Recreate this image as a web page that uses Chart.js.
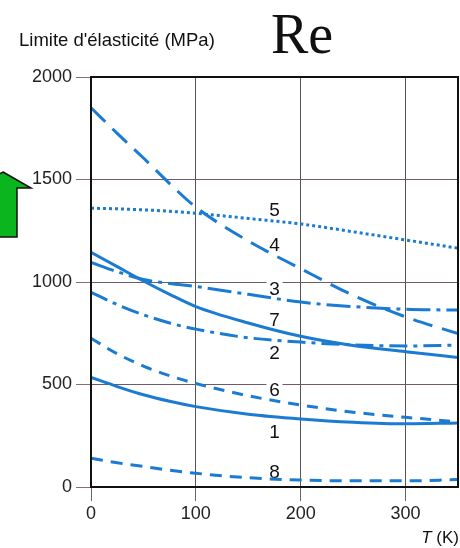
<!DOCTYPE html>
<html>
<head>
<meta charset="utf-8">
<style>
  html, body { margin: 0; padding: 0; background: #fff; }
  #wrap { position: relative; width: 460px; height: 548px; }
</style>
<script src="https://cdn.jsdelivr.net/npm/chart.js@4.4.0/dist/chart.umd.min.js"></script>
</head>
<body>
<div id="wrap"><canvas id="grafica" width="460" height="548"></canvas></div>
<script>
// temperatures (K) where the curves were read
const temperaturas = [0, 25, 50, 75, 100, 150, 200, 250, 300, 350];

// yield strength (MPa), one array per curve
const curva1 = [535, 490, 450, 418, 392, 355, 332, 316, 308, 312];
const curva2 = [950, 890, 840, 800, 770, 728, 707, 693, 688, 692];
const curva3 = [1095, 1050, 1012, 993, 978, 940, 902, 880, 867, 863];
const curva4 = [1850, 1725, 1605, 1480, 1365, 1200, 1065, 935, 830, 748];
const curva5 = [1360, 1357, 1352, 1345, 1335, 1310, 1283, 1245, 1205, 1165];
const curva6 = [725, 650, 590, 543, 505, 445, 400, 365, 340, 318];
const curva7 = [1145, 1075, 1005, 940, 880, 800, 735, 690, 660, 632];
const curva8 = [140, 118, 100, 82, 67, 45, 34, 30, 30, 36];

// curve numbers and where they are written (T = 175 K)
const etiquetas = ['5', '4', '3', '7', '2', '6', '1', '8'];
const etiquetasY = [1351, 1180, 966, 815, 654, 473, 268, 73];
const etiquetaT = 175;

const ticksX = [0, 100, 200, 300];
const ticksY = [0, 500, 1000, 1500, 2000];

const azul = '#1b7bd3';
const fuente = '"Liberation Sans", Arial, sans-serif';

function serie(valores, trazo) {
  return {
    data: temperaturas.map((t, i) => ({ x: t, y: valores[i] })),
    borderColor: azul,
    borderWidth: 3,
    borderDash: trazo,
    borderCapStyle: 'butt',
    pointRadius: 0,
    fill: false,
    cubicInterpolationMode: 'monotone'
  };
}

// texts, frame and the green arrow
const decoracion = {
  id: 'decoracion',
  beforeDatasetsDraw(chart) {
    const ctx = chart.ctx;
    const x = chart.scales.x, y = chart.scales.y;
    ctx.save();
    ctx.font = '19px ' + fuente;
    ctx.textAlign = 'center';
    ctx.textBaseline = 'middle';
    etiquetas.forEach((txt, i) => {
      const px = x.getPixelForValue(etiquetaT);
      const py = y.getPixelForValue(etiquetasY[i]);
      ctx.fillStyle = '#fff';
      ctx.fillRect(px - 8, py - 9, 16, 18);
      ctx.fillStyle = '#111';
      ctx.fillText(txt, px, py + 1);
    });
    ctx.restore();
  },
  afterDraw(chart) {
    const ctx = chart.ctx;
    const a = chart.chartArea;
    ctx.save();
    // frame
    ctx.strokeStyle = '#111';
    ctx.lineWidth = 2;
    ctx.strokeRect(a.left, a.top, a.right - a.left, a.bottom - a.top);

    // titles
    ctx.fillStyle = '#111';
    ctx.textBaseline = 'alphabetic';
    ctx.textAlign = 'left';
    ctx.font = '18.5px ' + fuente;
    ctx.fillText("Limite d'élasticité (MPa)", 19, 46);

    ctx.font = '56px "Liberation Serif", "Times New Roman", serif';
    ctx.fillText('Re', 271, 53);

    ctx.textAlign = 'right';
    ctx.font = '17px ' + fuente;
    const resto = ' (K)';
    ctx.fillText(resto, 459, 543);
    const ancho = ctx.measureText(resto).width;
    ctx.font = 'italic 17px ' + fuente;
    ctx.fillText('T', 459 - ancho, 543);

    // green arrow on the left edge
    ctx.beginPath();
    ctx.moveTo(3, 172);
    ctx.lineTo(31, 188);
    ctx.lineTo(17, 188);
    ctx.lineTo(17, 237);
    ctx.lineTo(-10, 237);
    ctx.lineTo(-10, 188);
    ctx.lineTo(-25, 188);
    ctx.closePath();
    ctx.fillStyle = '#0bb51e';
    ctx.fill();
    ctx.strokeStyle = '#111';
    ctx.lineWidth = 1.5;
    ctx.stroke();
    ctx.restore();
  }
};

new Chart(document.getElementById('grafica'), {
  type: 'line',
  data: {
    datasets: [
      serie(curva1, []),
      serie(curva2, [18, 6, 4, 6]),
      serie(curva3, [24, 6, 4, 6]),
      serie(curva4, [20, 10]),
      serie(curva5, [3, 3]),
      serie(curva6, [11, 8]),
      serie(curva7, []),
      serie(curva8, [12, 8])
    ]
  },
  options: {
    responsive: false,
    animation: false,
    layout: { padding: { top: 77, right: 2, left: 0, bottom: 0 } },
    plugins: { legend: { display: false }, tooltip: { enabled: false } },
    scales: {
      x: {
        type: 'linear',
        min: 0,
        max: 350,
        afterBuildTicks: s => { s.ticks = ticksX.map(v => ({ value: v })); },
        afterFit: s => { s.height = 61; },
        ticks: { color: '#222', font: { family: fuente, size: 18 }, padding: 2, maxRotation: 0, callback: v => String(v) },
        grid: { color: '#555', lineWidth: 1, tickLength: 14, tickColor: '#666' },
        border: { color: '#111', width: 2 }
      },
      y: {
        min: 0,
        max: 2000,
        afterBuildTicks: s => { s.ticks = ticksY.map(v => ({ value: v })); },
        afterFit: s => { s.width = 91; },
        ticks: { color: '#222', font: { family: fuente, size: 18 }, padding: 4, callback: v => String(v) },
        grid: { color: '#6e5a68', lineWidth: 1, tickLength: 15, tickColor: '#8a6a80' },
        border: { color: '#111', width: 2 }
      }
    }
  },
  plugins: [decoracion]
});
</script>
</body>
</html>
